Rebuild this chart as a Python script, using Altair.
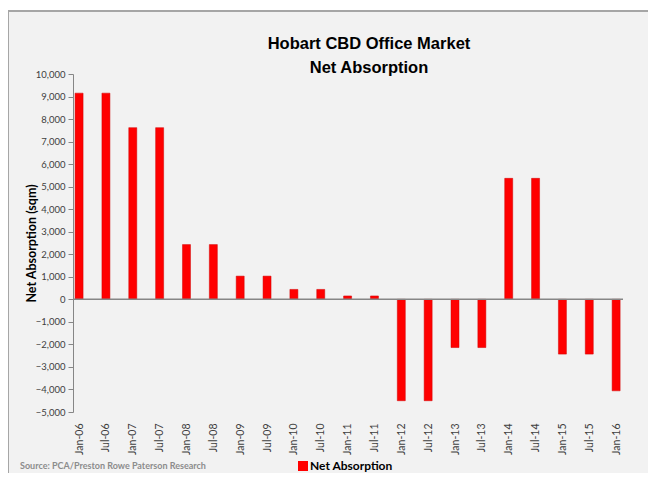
import altair as alt
import pandas as pd

periods = ["Jan-06", "Jul-06", "Jan-07", "Jul-07", "Jan-08", "Jul-08", "Jan-09",
           "Jul-09", "Jan-10", "Jul-10", "Jan-11", "Jul-11", "Jan-12", "Jul-12",
           "Jan-13", "Jul-13", "Jan-14", "Jul-14", "Jan-15", "Jul-15", "Jan-16"]
net_absorption = [9150, 9150, 7620, 7620, 2430, 2430, 1030, 1030, 440, 440,
                  150, 150, -4500, -4500, -2140, -2140, 5370, 5370, -2430, -2430, -4060]
series_name = "Net Absorption"
y_ticks = list(range(-5000, 10001, 1000))
title_line1 = "Hobart CBD Office Market"
title_line2 = "Net Absorption"
y_title = "Net Absorption (sqm)"
source_text = "Source: PCA/Preston Rowe Paterson Research"

df = pd.DataFrame({
    "idx": list(range(len(periods))),
    "period": periods,
    "value": net_absorption,
    "series": series_name,
})

label_expr = "[" + ",".join(f"'{p}'" for p in periods) + "][datum.value]"

x_enc = alt.X(
    "idx:Q",
    scale=alt.Scale(domain=[-0.04, len(periods) - 1 + 0.07], nice=False, zero=False),
    axis=alt.Axis(values=list(range(len(periods))), labelExpr=label_expr, labelAngle=270,
                  domain=False, ticks=False, grid=False, labelPadding=11, title=None,
                  labelOverlap=False, labelFont="Lato", labelFontSize=10.5,
                  labelColor="#404040", zindex=1),
)
y_axis = alt.Axis(values=y_ticks, labelExpr="format(datum.value, ',')", grid=False,
                  domainColor="#868686", tickColor="#868686", tickSize=5, labelPadding=3,
                  labelOverlap=False, labelFont="Lato", labelFontSize=9.5, labelColor="#404040",
                  title=y_title, titleFont="Lato", titleFontSize=12.5, titleFontWeight="bold",
                  titleColor="black", titleX=-42, titleY=169, titleAlign="center",
                  titleBaseline="middle", titleAngle=270, zindex=1)
y_scale = alt.Scale(domain=[-5000, 10000], nice=False)

bg = alt.Chart(alt.Data(values=[{}])).mark_rect(
    fill="#f2f2f2", stroke="#a6a6a6", strokeWidth=2
).encode(x=alt.value(-65), x2=alt.value(620), y=alt.value(-63), y2=alt.value(460))

bars = alt.Chart(df).mark_bar(size=8, clip=True, stroke="#d00000", strokeWidth=0.5).encode(
    x=x_enc,
    y=alt.Y("value:Q", scale=y_scale, axis=y_axis),
    color=alt.Color("series:N", scale=alt.Scale(range=["#ff0000"]),
                    legend=alt.Legend(orient="none", legendX=224, legendY=386, title=None,
                                      symbolType="square", symbolSize=100,
                                      labelFont="Lato", labelFontSize=12,
                                      labelFontWeight="bold", labelColor="black",
                                      symbolStrokeWidth=0, labelOffset=1, zindex=1)),
)

zero = alt.Chart(alt.Data(values=[{"value": 0}])).mark_rule(
    color="#868686", strokeWidth=1.5
).encode(y=alt.Y("value:Q", scale=y_scale, axis=y_axis))

source = alt.Chart(alt.Data(values=[{"t": source_text}])).mark_text(
    align="left", baseline="middle", font="Lato", fontSize=9, color="#8c8c8c", fontWeight="bold"
).encode(x=alt.value(-53), y=alt.value(392), text="t:N")

title_font = "Liberation Sans Narrow, Liberation Sans"
t1 = alt.Chart(alt.Data(values=[{"t": title_line1}])).mark_text(
    align="center", baseline="middle", font=title_font, fontSize=16.5, fontWeight="bold",
    color="black"
).encode(x=alt.value(296), y=alt.value(-30), text="t:N")
t2 = alt.Chart(alt.Data(values=[{"t": title_line2}])).mark_text(
    align="center", baseline="middle", font=title_font, fontSize=16.5, fontWeight="bold",
    color="black"
).encode(x=alt.value(296), y=alt.value(-6), text="t:N")

chart = alt.layer(bg, bars, zero, source, t1, t2).properties(
    width=550,
    height=338,
    padding={"left": 65, "top": 66, "right": 25, "bottom": 61},
    autosize=alt.AutoSizeParams(type="none"),
    background="white",
).configure_view(stroke=None)

chart.save("out.html", embed_options={"renderer": "svg", "actions": False})
